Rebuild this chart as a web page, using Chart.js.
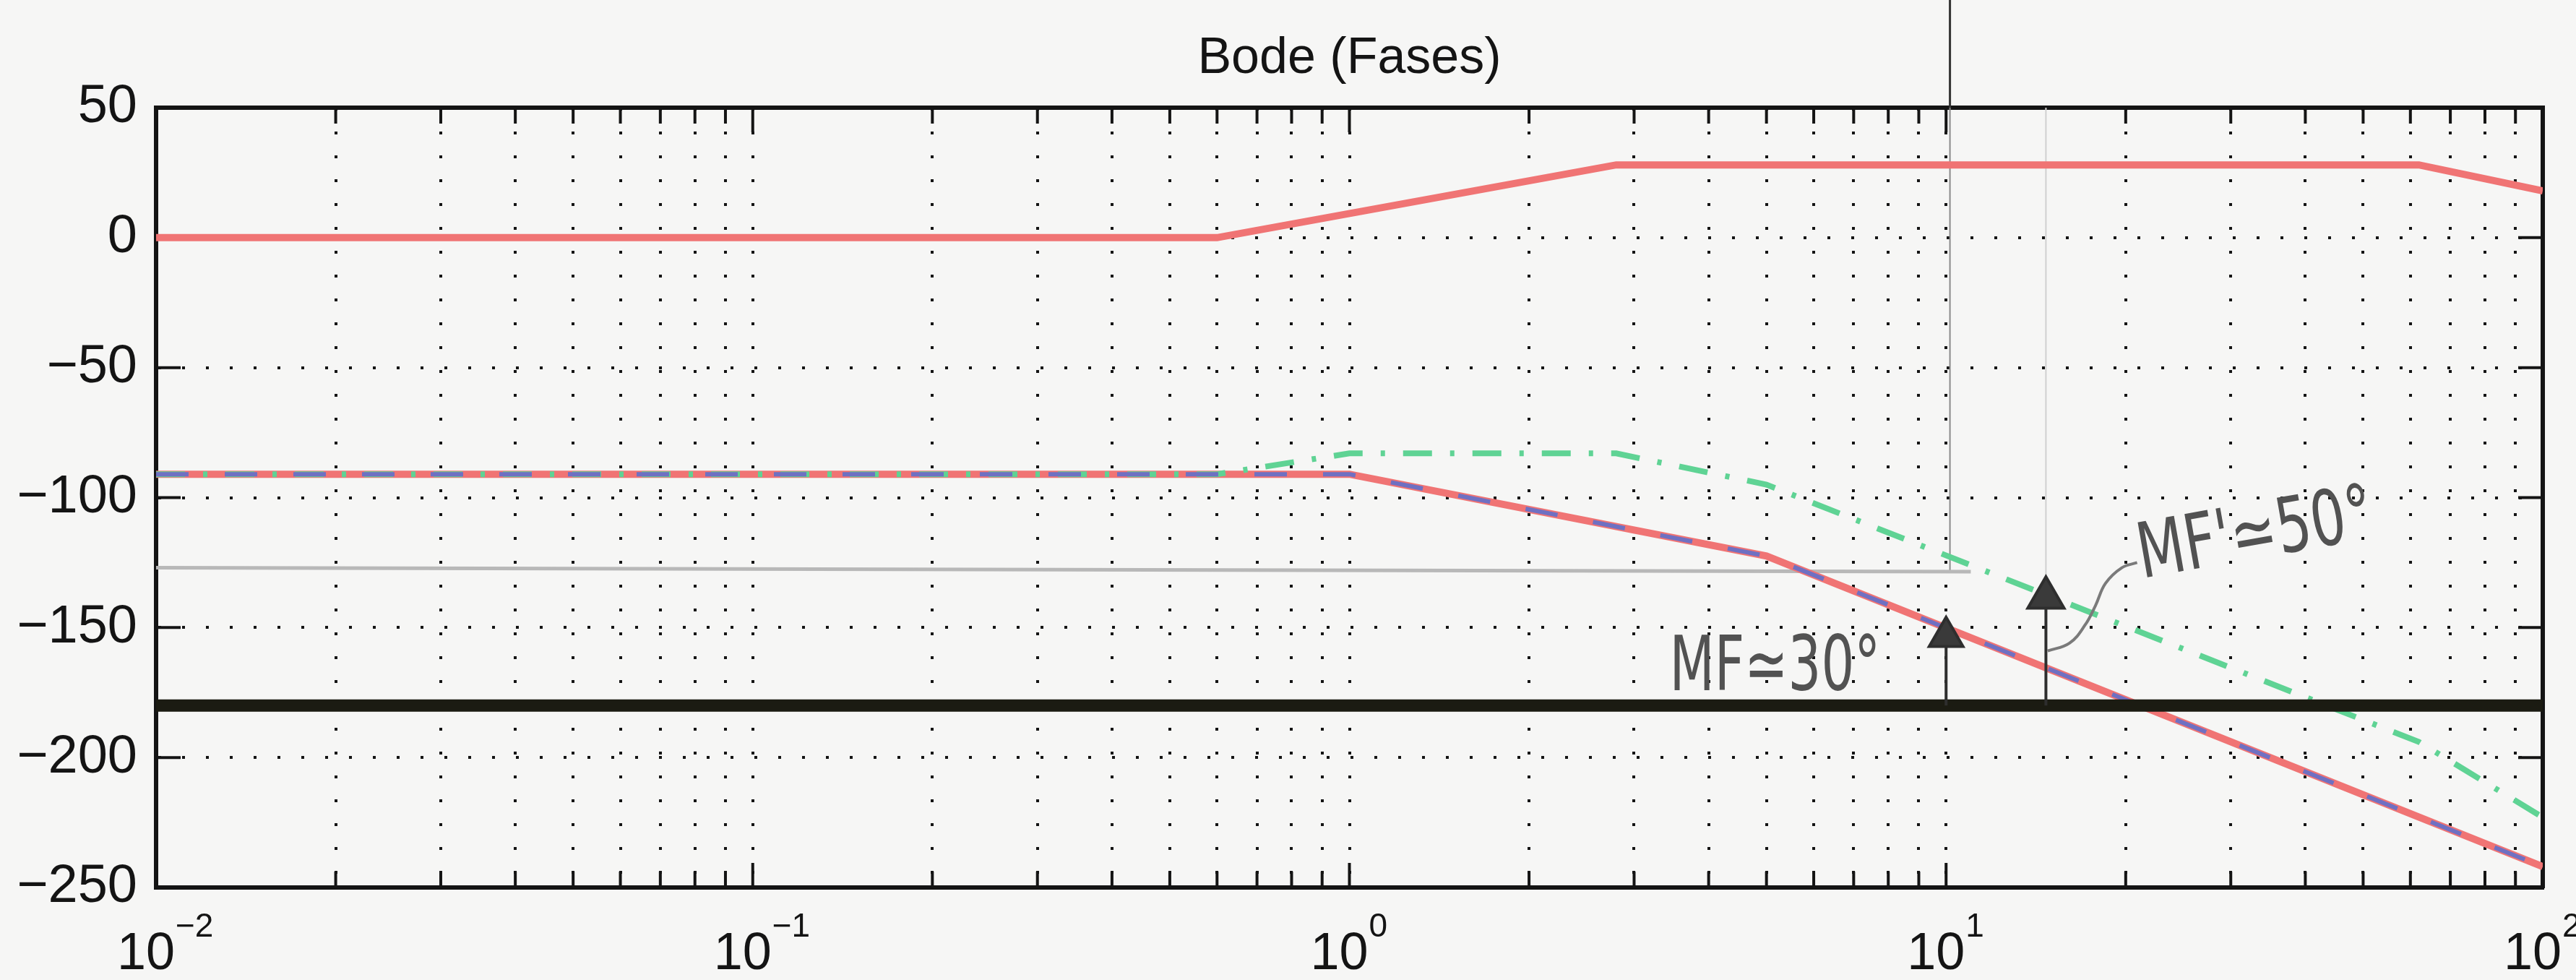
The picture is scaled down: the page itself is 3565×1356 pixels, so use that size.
<!DOCTYPE html>
<html>
<head>
<meta charset="utf-8">
<title>Bode (Fases)</title>
<script src="https://cdn.jsdelivr.net/npm/chart.js@4.4.1/dist/chart.umd.min.js"></script>
<style>
  html, body { margin: 0; padding: 0; background: #f6f6f5; }
  #wrap { width: 3565px; height: 1356px; }
</style>
</head>
<body>
<div id="wrap"><canvas id="bode" width="3565" height="1356"></canvas></div>
<script>
// phase curves (freq in rad/s, phase in degrees)
const leadFreq   = [0.01, 0.6, 2.8, 62, 100];
const leadPhase  = [0, 0, 28, 28, 18];

const plantFreq  = [0.01, 1, 5, 100];
const plantPhase = [-91, -91, -122.5, -242];

const compFreq   = [0.01, 0.6, 1, 2.8, 5, 62, 100];
const compPhase  = [-91, -91, -83, -83, -95, -194, -223];

// pen / pencil marks added on the paper
const limitFreq   = [0.01, 100];
const limitPhase  = [-180, -180];
const pencilFreq  = [0.01, 11];
const pencilPhase = [-127, -128.5];
const arrowFreq   = [10, 14.7];
const arrowBase   = [-180, -180];
const arrowTip    = [-153.5, -138.5];
const curlFreq    = [14.8, 16.1, 17.1, 17.8, 18.5, 19.7, 20.9];
const curlPhase   = [-159, -156, -149, -141.5, -133, -127, -125];
const foldFreq    = [10.15, 10.15, 10.15];
const foldPhase   = [95, 50, -128];
const notes       = ['MF≃30°', "MF'≃50°"];

const decadeTicks = [0.01, 0.1, 1, 10, 100];
const decadeBase  = '10';
const decadeExp   = ['\u22122', '\u22121', '0', '1', '2'];
const phaseTicks  = [-250, -200, -150, -100, -50, 0, 50];

const pts = (xs, ys) => xs.map((x, i) => ({ x, y: ys[i] }));
const gridFreqs = decadeTicks.slice(0, -1)
    .flatMap(d => [1, 2, 3, 4, 5, 6, 7, 8, 9].map(m => +(d * m).toPrecision(3)))
    .concat([100]);

const ink = '#141414';
const font = '"Liberation Sans", Arial, Helvetica, sans-serif';

// matlab style ticks pointing into the box
const inwardTicks = {
    id: 'inwardTicks',
    beforeDatasetsDraw(chart) {
        const { ctx, chartArea: a, scales: { x, y } } = chart;
        ctx.save();
        ctx.strokeStyle = ink;
        ctx.lineWidth = 4;
        ctx.beginPath();
        x.ticks.forEach(t => {
            const px = x.getPixelForValue(t.value);
            const len = decadeTicks.includes(t.value) ? 34 : 22;
            ctx.moveTo(px, a.bottom); ctx.lineTo(px, a.bottom - len);
            ctx.moveTo(px, a.top);    ctx.lineTo(px, a.top + len);
        });
        y.ticks.forEach(t => {
            const py = y.getPixelForValue(t.value);
            ctx.moveTo(a.left, py);  ctx.lineTo(a.left + 34, py);
            ctx.moveTo(a.right, py); ctx.lineTo(a.right - 34, py);
        });
        ctx.stroke();
        ctx.restore();
    },
};

// exponent of the 10^n tick labels
const decadeExponents = {
    id: 'decadeExponents',
    afterDraw(chart) {
        const { ctx, scales: { x } } = chart;
        ctx.save();
        ctx.font = `46px ${font}`;
        ctx.fillStyle = ink;
        ctx.textAlign = 'left';
        ctx.textBaseline = 'alphabetic';
        decadeTicks.forEach((v, i) => {
            ctx.fillText(decadeExp[i], x.getPixelForValue(v) + 27, x.top + 68);
        });
        ctx.restore();
    },
};

// handwritten margin notes
const handNotes = {
    id: 'handNotes',
    afterDatasetsDraw(chart) {
        const { ctx, scales: { x, y } } = chart;
        const items = [
            { text: notes[0], f: 3.44, p: -174, size: 106, angle: 0,   squeeze: 0.68 },
            { text: notes[1], f: 21.3, p: -131, size: 106, angle: -10, squeeze: 0.72 },
        ];
        items.forEach(n => {
            ctx.save();
            ctx.translate(x.getPixelForValue(n.f), y.getPixelForValue(n.p));
            ctx.rotate(n.angle * Math.PI / 180);
            ctx.scale(n.squeeze, 1);
            ctx.font = `${n.size}px "DejaVu Sans", sans-serif`;
            ctx.fillStyle = '#525252';
            ctx.textBaseline = 'alphabetic';
            ctx.fillText(n.text, 0, 0);
            ctx.restore();
        });
    },
};

const line = (data, color, width, extra = {}) => ({
    data,
    borderColor: color,
    backgroundColor: color,
    borderWidth: width,
    pointRadius: 0,
    tension: 0,
    ...extra,
});

new Chart(document.getElementById('bode'), {
    type: 'line',
    data: {
        datasets: [
            line(pts(limitFreq, limitPhase), '#1b1b12', 17, { order: 1 }),
            line(pts([arrowFreq[0], arrowFreq[0]], [arrowBase[0], arrowTip[0]]), '#2e2e2e', 4, {
                order: 0, pointRadius: [0, 27], pointStyle: 'triangle', pointBackgroundColor: '#3a3a3a',
            }),
            line(pts([arrowFreq[1], arrowFreq[1]], [arrowBase[1], arrowTip[1]]), '#2e2e2e', 4, {
                order: 0, pointRadius: [0, 29], pointStyle: 'triangle', pointBackgroundColor: '#3a3a3a',
            }),
            line(pts(curlFreq, curlPhase), '#7a7a7a', 4, { order: 0, tension: 0.4 }),
            line(pts(plantFreq, plantPhase), '#6f70c2', 6, { order: 2, borderDash: [45, 50] }),
            line(pts(compFreq, compPhase), '#5fd394', 8, { order: 3, borderDash: [40, 25, 6, 25] }),
            line(pts(plantFreq, plantPhase), '#f07474', 10, { order: 4 }),
            line(pts(leadFreq, leadPhase), '#f07474', 10, { order: 4 }),
            line(pts(pencilFreq, pencilPhase), '#b8b8b8', 5, { order: 5 }),
            line(pts(foldFreq.slice(0, 2), foldPhase.slice(0, 2)), '#333', 3, { order: 5, clip: false }),
            line(pts(foldFreq.slice(1), foldPhase.slice(1)), '#8a8a8a', 2, { order: 5 }),
            line(pts([arrowFreq[1], arrowFreq[1]], [50, arrowTip[1]]), '#d0d0d0', 2, { order: 5 }),
        ],
    },
    options: {
        responsive: false,
        devicePixelRatio: 1,
        animation: false,
        layout: { padding: 0 },
        plugins: {
            legend: { display: false },
            tooltip: { enabled: false },
            title: {
                display: true,
                text: 'Bode (Fases)',
                color: ink,
                fullSize: false,
                font: { family: font, size: 70, weight: 'normal' },
                padding: { top: 40, bottom: 25 },
            },
        },
        scales: {
            x: {
                type: 'logarithmic',
                position: 'bottom',
                min: 0.01,
                max: 100,
                afterBuildTicks: s => { s.ticks = gridFreqs.map(v => ({ value: v })); },
                afterFit: s => { s.height = 128; s.paddingLeft = 0; s.paddingRight = 0; },
                ticks: {
                    autoSkip: false,
                    maxRotation: 0,
                    padding: 50,
                    labelOffset: -14,
                    color: ink,
                    font: { family: font, size: 72 },
                    callback: v => (decadeTicks.includes(v) ? decadeBase : ''),
                },
                grid: { color: ink, lineWidth: 4, drawTicks: false },
                border: { display: true, color: ink, width: 6, dash: [4, 29] },
            },
            x2: {
                type: 'logarithmic',
                position: 'top',
                min: 0.01,
                max: 100,
                afterFit: s => { s.height = 0; s.paddingLeft = 0; s.paddingRight = 0; },
                ticks: { display: false },
                grid: { display: false },
                border: { display: true, color: ink, width: 6 },
            },
            y: {
                type: 'linear',
                position: 'left',
                min: -250,
                max: 50,
                afterBuildTicks: s => { s.ticks = phaseTicks.map(v => ({ value: v })); },
                afterFit: s => { s.width = 216; },
                ticks: {
                    padding: 26,
                    color: ink,
                    font: { family: font, size: 74 },
                    callback: v => (v < 0 ? '\u2212' + (-v) : String(v)),
                },
                grid: { color: ink, lineWidth: 4, drawTicks: false },
                border: { display: true, color: ink, width: 6, dash: [4, 29] },
            },
            y2: {
                type: 'linear',
                position: 'right',
                min: -250,
                max: 50,
                afterFit: s => { s.width = 46; },
                ticks: { display: false },
                grid: { display: false },
                border: { display: true, color: ink, width: 6 },
            },
        },
    },
    plugins: [inwardTicks, decadeExponents, handNotes],
});
</script>
</body>
</html>
